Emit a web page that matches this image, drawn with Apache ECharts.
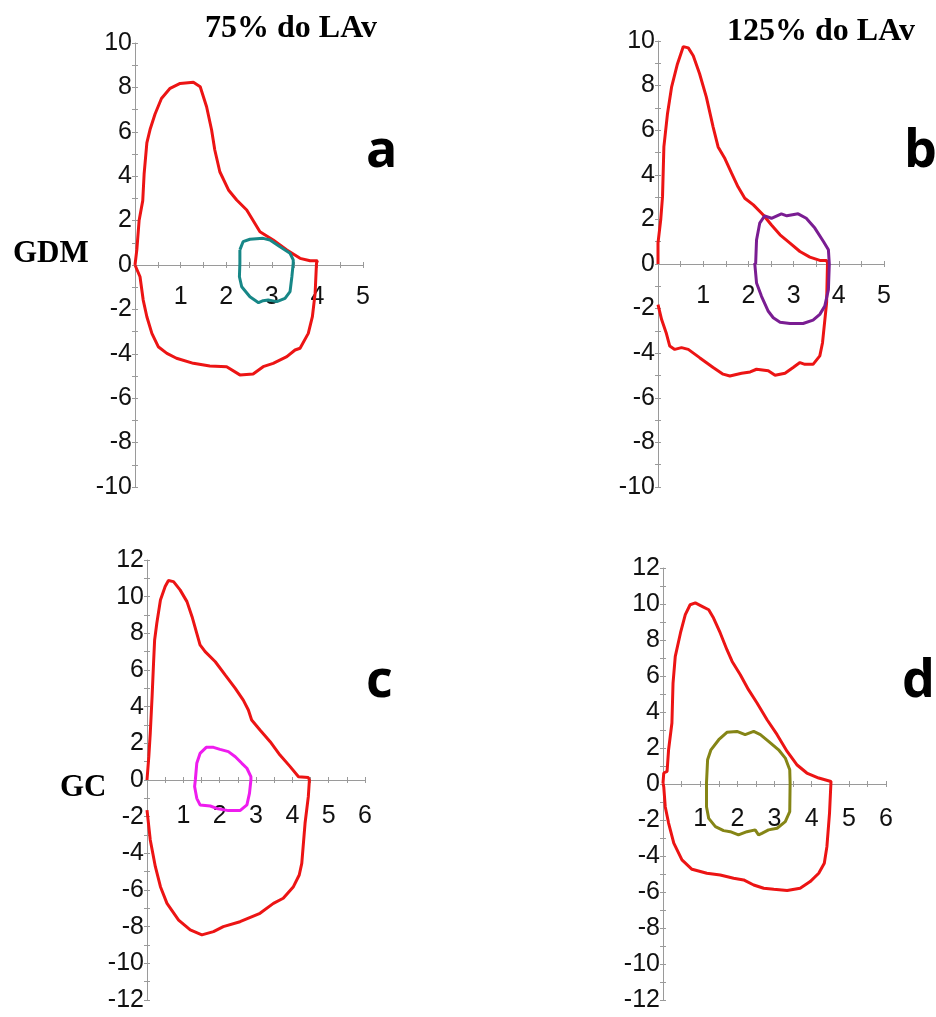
<!DOCTYPE html>
<html>
<head>
<meta charset="utf-8">
<script src="https://cdn.jsdelivr.net/npm/echarts@6/dist/echarts.min.js"></script>
<style>
html,body{margin:0;padding:0;background:#fff;}
#chart{width:936px;height:1017px;}
</style>
</head>
<body>
<div id="chart"></div>
<script>
// ---- data ----
var colTitles = ['75% do LAv', '125% do LAv'];
var rowTitles = ['GDM', 'GC'];
var panelLetters = ['a', 'b', 'c', 'd'];

var aRed = [[0,0],[0.04,0.68],[0.09,2.0],[0.17,2.9],[0.2,4.1],[0.26,5.5],[0.33,6.1],[0.44,6.8],[0.58,7.5],[0.77,7.96],[0.99,8.18],[1.28,8.23],[1.43,8.03],[1.57,7.13],[1.68,6.08],[1.75,5.18],[1.86,4.2],[2.05,3.38],[2.23,2.93],[2.45,2.48],[2.74,1.5],[3.03,1.13],[3.33,0.68],[3.62,0.3],[3.84,0.19],[4.0,0.19],[3.98,0.08],[3.95,-1.28],[3.89,-2.33],[3.8,-3.08],[3.62,-3.75],[3.51,-3.83],[3.33,-4.13],[3.03,-4.43],[2.81,-4.58],[2.59,-4.91],[2.3,-4.95],[2.01,-4.58],[1.64,-4.55],[1.28,-4.43],[0.91,-4.2],[0.7,-3.98],[0.51,-3.68],[0.37,-3.08],[0.26,-2.33],[0.18,-1.58],[0.11,-0.53],[0,0]];
var aTeal = [[2.3,0.68],[2.37,1.05],[2.52,1.16],[2.81,1.2],[2.96,1.13],[3.18,0.82],[3.4,0.53],[3.47,0.23],[3.47,0.08],[3.44,-0.53],[3.4,-1.2],[3.29,-1.5],[3.11,-1.65],[2.92,-1.58],[2.81,-1.61],[2.71,-1.7],[2.52,-1.43],[2.34,-0.98],[2.29,-0.53],[2.3,0.08],[2.3,0.68]];

var bRed = [[0,0],[0,0.94],[0.06,1.98],[0.1,3.02],[0.13,5.25],[0.21,6.74],[0.3,7.93],[0.43,8.97],[0.56,9.75],[0.67,9.69],[0.78,9.34],[0.92,8.53],[1.07,7.48],[1.22,6.14],[1.33,5.25],[1.48,4.73],[1.63,4.06],[1.77,3.46],[1.92,2.95],[2.11,2.65],[2.33,2.2],[2.51,1.75],[2.7,1.31],[2.92,0.94],[3.14,0.56],[3.36,0.31],[3.58,0.16],[3.73,0.16],[3.75,0.04],[3.73,-1.74],[3.64,-3.53],[3.58,-4.12],[3.43,-4.5],[3.25,-4.5],[3.14,-4.42],[2.99,-4.64],[2.81,-4.9],[2.59,-4.99],[2.44,-4.79],[2.18,-4.72],[2.04,-4.84],[1.85,-4.9],[1.59,-5.02],[1.44,-4.94],[1.22,-4.64],[0.92,-4.2],[0.67,-3.83],[0.52,-3.75],[0.37,-3.83],[0.26,-3.68],[0.18,-3.08],[0.08,-2.49],[0,-1.82]];
var bPurple = [[2.16,0],[2.18,1.08],[2.25,1.83],[2.36,2.16],[2.51,2.05],[2.73,2.25],[2.85,2.16],[3.1,2.25],[3.28,2.05],[3.47,1.61],[3.66,1.01],[3.77,0.64],[3.79,0],[3.77,-1.15],[3.69,-1.89],[3.58,-2.26],[3.43,-2.52],[3.21,-2.67],[2.92,-2.67],[2.7,-2.61],[2.55,-2.41],[2.44,-2.12],[2.29,-1.45],[2.18,-0.85],[2.14,0.04],[2.16,0]];

var cRed = [[0,0],[0.05,1.27],[0.09,2.55],[0.14,4.55],[0.18,6.37],[0.21,7.64],[0.27,8.55],[0.37,9.82],[0.5,10.55],[0.59,10.88],[0.73,10.82],[0.91,10.37],[1.1,9.73],[1.24,8.91],[1.37,8.0],[1.46,7.37],[1.6,7.0],[1.88,6.45],[2.15,5.73],[2.43,5.0],[2.65,4.36],[2.79,3.82],[2.88,3.27],[3.11,2.73],[3.39,2.09],[3.66,1.36],[3.94,0.73],[4.17,0.18],[4.44,0.13],[4.47,0],[4.44,-0.91],[4.35,-2.36],[4.26,-4.55],[4.19,-5.18],[4.03,-5.82],[3.75,-6.45],[3.48,-6.73],[3.11,-7.27],[2.56,-7.73],[2.1,-8.0],[1.83,-8.27],[1.51,-8.45],[1.19,-8.18],[0.87,-7.64],[0.55,-6.73],[0.37,-5.82],[0.23,-4.73],[0.09,-3.27],[0,-1.64]];
var cMagenta = [[1.33,0],[1.37,0.91],[1.46,1.45],[1.63,1.78],[1.83,1.78],[2.01,1.67],[2.24,1.55],[2.43,1.27],[2.61,0.91],[2.75,0.64],[2.86,0.18],[2.86,0],[2.82,-0.73],[2.75,-1.36],[2.56,-1.67],[2.24,-1.67],[1.92,-1.55],[1.74,-1.42],[1.46,-1.36],[1.37,-1.0],[1.31,-0.36],[1.33,0]];

var dRed = [[0,0.05],[0.02,0.61],[0.11,0.7],[0.15,1.9],[0.24,3.39],[0.27,5.61],[0.33,7.09],[0.47,8.39],[0.6,9.41],[0.73,9.96],[0.87,10.06],[1.05,9.87],[1.23,9.68],[1.36,9.22],[1.54,8.39],[1.72,7.46],[1.86,6.81],[2.08,6.07],[2.3,5.24],[2.53,4.5],[2.8,3.57],[3.07,2.74],[3.34,1.81],[3.6,1.07],[3.87,0.61],[4.19,0.33],[4.52,0.14],[4.52,0.04],[4.48,-1.63],[4.41,-3.48],[4.34,-4.4],[4.19,-4.96],[3.96,-5.42],[3.69,-5.79],[3.34,-5.92],[2.98,-5.85],[2.71,-5.79],[2.44,-5.61],[2.17,-5.33],[1.9,-5.24],[1.54,-5.06],[1.18,-4.96],[0.78,-4.74],[0.51,-4.22],[0.29,-3.28],[0.15,-2.17],[0.06,-1.26],[0.02,-0.15],[0,0.05]];
var dOlive = [[1.17,0.05],[1.2,1.35],[1.29,1.9],[1.5,2.46],[1.72,2.87],[1.99,2.92],[2.21,2.74],[2.44,2.92],[2.62,2.74],[2.84,2.37],[3.11,1.9],[3.29,1.44],[3.41,0.79],[3.42,0.05],[3.41,-1.54],[3.29,-2.09],[3.07,-2.46],[2.84,-2.55],[2.66,-2.74],[2.57,-2.83],[2.48,-2.55],[2.26,-2.65],[2.03,-2.83],[1.81,-2.65],[1.63,-2.59],[1.41,-2.37],[1.23,-1.91],[1.17,-1.26],[1.17,-0.46],[1.17,0.05]];

var xMaxAB = 5, yMaxAB = 10;
var xMaxCD = 6, yMaxCD = 12;

// ---- layout ----
var panels = [
  {box:{left:135, top:43, width:228, height:444}, xMargin:20, xMax:xMaxAB, yMax:yMaxAB, series:[[aRed,'#ec1414'],[aTeal,'#178787']]},
  {box:{left:658, top:41, width:226, height:446}, xMargin:20, xMax:xMaxAB, yMax:yMaxAB, series:[[bRed,'#ec1414'],[bPurple,'#7a1d92']]},
  {box:{left:147, top:560, width:218, height:440}, xMargin:24, xMax:xMaxCD, yMax:yMaxCD, series:[[cRed,'#ec1414'],[cMagenta,'#ee1cee']]},
  {box:{left:663, top:568, width:223, height:432}, xMargin:23, xMax:xMaxCD, yMax:yMaxCD, series:[[dRed,'#ec1414'],[dOlive,'#858516']]}
];

var axisCol = '#9a9a9a';
var labelFont = {fontFamily:'Liberation Sans, Arial, sans-serif', fontSize:25, color:'#111'};
var grid = [], xAxis = [], yAxis = [], series = [];
panels.forEach(function(p, i){
  for (var k = 0; k < 2; k++) {
    var gi = grid.length;
    grid.push({left:p.box.left, top:p.box.top, width:p.box.width, height:p.box.height, containLabel:false, outerBoundsMode:'none'});
    var inside = (k === 1);
    xAxis.push({
      type:'value', gridIndex:gi, min:0, max:p.xMax, interval:0.5, position:'bottom',
      offset:-p.box.height / 2,
      splitLine:{show:false},
      axisLine:{show:!inside, onZero:false, lineStyle:{color:axisCol, width:1}},
      axisTick:{show:true, inside:inside, length:3, lineStyle:{color:axisCol}},
      axisLabel:{show:!inside, margin:p.xMargin, fontFamily:labelFont.fontFamily, fontSize:labelFont.fontSize, color:labelFont.color,
        formatter:function(v){ return (Math.abs(v - Math.round(v)) < 1e-9 && v !== 0) ? String(Math.round(v)) : ''; }}
    });
    yAxis.push({
      type:'value', gridIndex:gi, min:-p.yMax, max:p.yMax, interval:1, position:'left',
      splitLine:{show:false},
      axisLine:{show:!inside, onZero:false, lineStyle:{color:axisCol, width:1}},
      axisTick:{show:true, inside:inside, length:3, lineStyle:{color:axisCol}},
      axisLabel:{show:!inside, margin:3, fontFamily:labelFont.fontFamily, fontSize:labelFont.fontSize, color:labelFont.color,
        formatter:function(v){ var r = Math.round(v); return (Math.abs(v - r) < 1e-9 && r % 2 === 0) ? String(r) : ''; }}
    });
    if (!inside) {
      p.series.forEach(function(s){
        series.push({type:'line', xAxisIndex:gi, yAxisIndex:gi, data:s[0], showSymbol:false, symbol:'none',
          smooth:false, clip:false, lineStyle:{color:s[1], width:3}, z:3, silent:true});
      });
    }
  }
});

var serif = 'Liberation Serif, Times New Roman, serif';
var letterFont = 'Open Sans, sans-serif';
var graphic = [
  {type:'text', left:205, top:13, style:{text:colTitles[0], font:'bold 32px ' + serif, fill:'#000'}},
  {type:'text', left:727, top:16, style:{text:colTitles[1], font:'bold 32px ' + serif, fill:'#000'}},
  {type:'text', left:13, top:238, style:{text:rowTitles[0], font:'bold 31px ' + serif, fill:'#000'}},
  {type:'text', left:60, top:772, style:{text:rowTitles[1], font:'bold 31px ' + serif, fill:'#000'}},
  {type:'text', left:366, top:126, style:{text:panelLetters[0], font:'bold 52px ' + letterFont, fill:'#000'}},
  {type:'text', left:904, top:126, style:{text:panelLetters[1], font:'bold 52px ' + letterFont, fill:'#000'}},
  {type:'text', left:366, top:656, style:{text:panelLetters[2], font:'bold 52px ' + letterFont, fill:'#000'}},
  {type:'text', left:902, top:656, style:{text:panelLetters[3], font:'bold 52px ' + letterFont, fill:'#000'}}
];

var chart = echarts.init(document.getElementById('chart'), null, {renderer:'canvas'});
chart.setOption({
  backgroundColor:'#fff',
  animation:false,
  grid:grid, xAxis:xAxis, yAxis:yAxis, series:series, graphic:graphic
});
</script>
</body>
</html>
